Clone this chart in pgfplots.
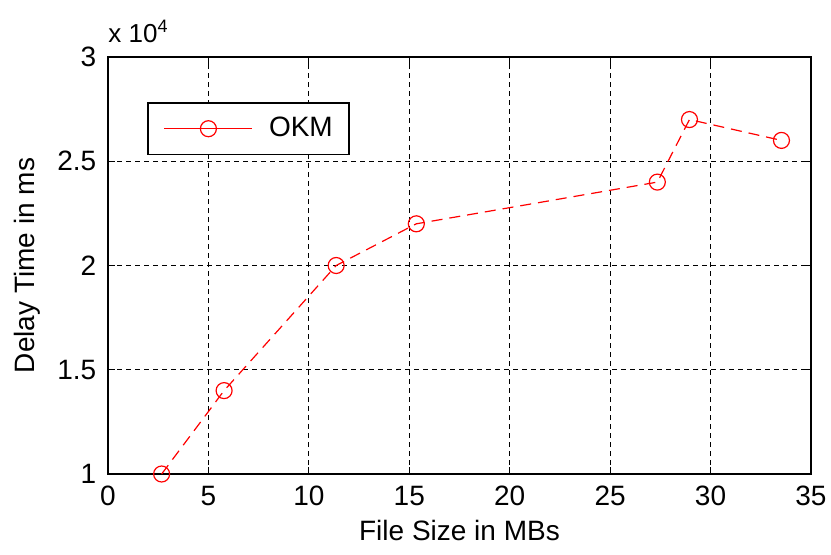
\documentclass[border=0pt]{standalone}
\usepackage{pgfplots}
\pgfplotsset{compat=1.18}
\usepackage{fontspec}
\setmainfont{Liberation Sans}
\begin{document}
\fontsize{14pt}{16pt}\selectfont
\begin{tikzpicture}
\useasboundingbox (0,0) rectangle (415.5pt,277pt);
\begin{axis}[
  name=ax,
  at={(54pt,40pt)}, anchor=south west,
  width=351.5pt, height=208.5pt, scale only axis,
  xmin=0, xmax=35, ymin=10000, ymax=30000,
  scaled y ticks=false,
  xtick={0,5,...,35},
  ytick={10000,15000,20000,25000,30000},
  yticklabels={1,1.5,2,2.5,3},
  /pgf/number format/assume math mode=true,
  tick label style={font=\fontsize{14pt}{16pt}\selectfont},
  label style={font=\fontsize{14pt}{16pt}\selectfont},
  xlabel={File Size in MBs},
  ylabel={Delay Time in ms},
  xlabel style={yshift=2pt},
  ylabel style={yshift=-1pt},
  grid=major,
  major grid style={black, line width=0.5pt, dash pattern=on 2.5pt off 2pt},
  axis line style={line width=0.9pt},
  tick style={black, line width=0.6pt},
  tick align=inside,
  major tick length=3.5pt,
  xtick pos=both, ytick pos=both,
  xticklabel style={yshift=-1pt},
  yticklabel style={xshift=-1pt},
  legend style={at={(0.0555,0.892)}, anchor=north west, draw=black, line width=0.8pt,
    inner xsep=6pt, inner ysep=5pt, font=\fontsize{14pt}{16pt}\selectfont},
  legend cell align=left,
  legend image code/.code={
    \path (-2pt,0pt) (50pt,0pt);
    \draw[mark repeat=2,mark phase=2,#1,solid,line width=0.65pt] plot coordinates {(0pt,0pt)(22pt,0pt)(44pt,0pt)};
  },
]
\addplot[red, line width=0.6pt, dash pattern=on 5.5pt off 3.5pt,
  mark=o, mark size=4pt, mark options={solid, line width=0.6pt}]
  coordinates {(2.67,10000)(5.78,14000)(11.36,20000)(15.35,22000)(27.35,24000)(28.95,27000)(33.53,26000)};
\addlegendentry{OKM}
\end{axis}
\node[anchor=south west, inner sep=0pt, font=\fontsize{13pt}{15pt}\selectfont] at (ax.north west) [yshift=7pt] {x 10\raisebox{5pt}{\fontsize{9pt}{10pt}\selectfont 4}};
\end{tikzpicture}
\end{document}
